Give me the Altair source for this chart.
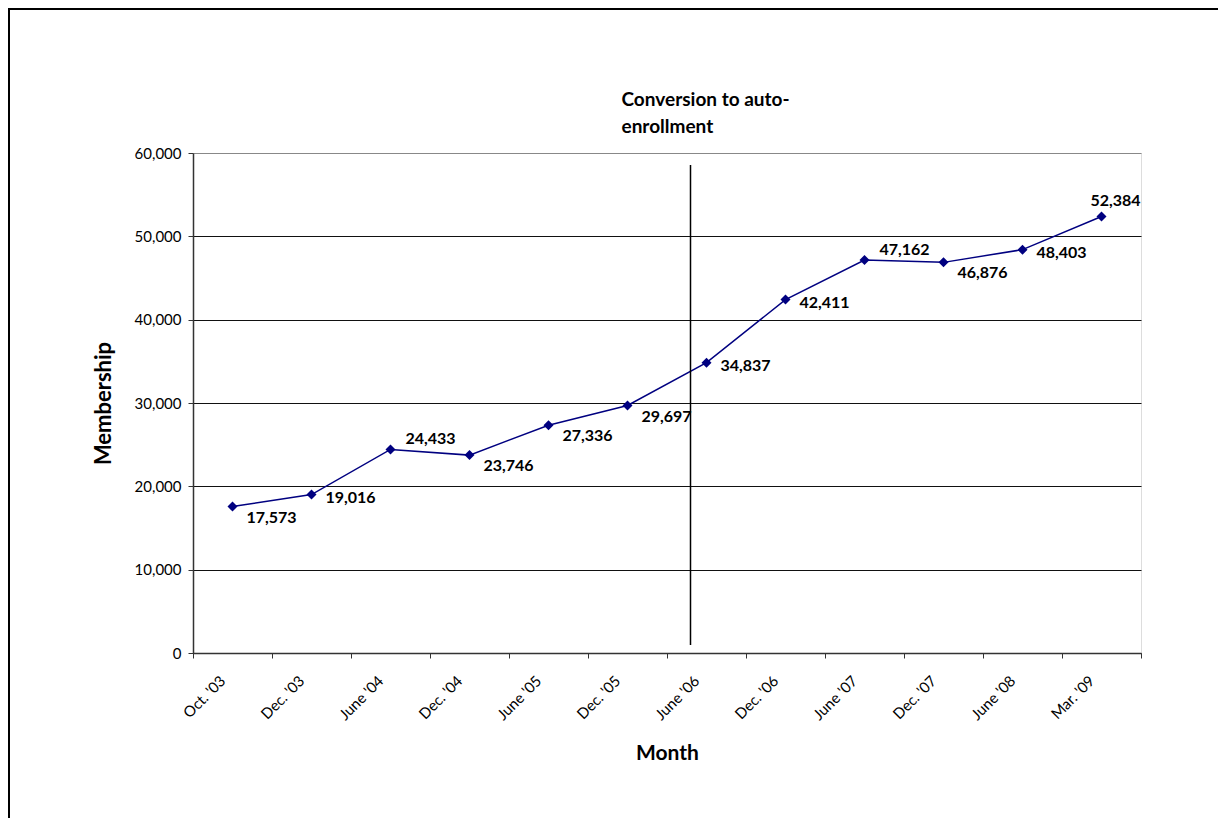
import altair as alt
import pandas as pd

months = ["Oct. '03", "Dec. '03", "June '04", "Dec. '04", "June '05", "Dec. '05",
          "June '06", "Dec. '06", "June '07", "Dec. '07", "June '08", "Mar. '09"]
membership = [17573, 19016, 24433, 23746, 27336, 29697,
              34837, 42411, 47162, 46876, 48403, 52384]
label_pos = ["below", "right", "above", "below", "below", "below",
             "right", "right", "above", "below", "right", "top"]
annotation = ["Conversion to auto-", "enrollment"]
conversion_month = "June '06"

df = pd.DataFrame({"month": months, "members": membership, "pos": label_pos})

FONT = "Lato"
NAVY = "#000080"
W, H = 948, 500
PAD_R, PAD_B = 77, 165

x_enc = alt.X("month:N", sort=months,
              scale=alt.Scale(type="band", domain=months, paddingInner=0, paddingOuter=0),
              axis=alt.Axis(title="Month", labelAngle=-45, labelFontSize=15, labelFont=FONT,
                            labelColor="#000", tickBand="extent", tickSize=5, tickColor="#333",
                            domainColor="#333", domainWidth=1.5, grid=False,
                            labelPadding=15, labelOffset=-15,
                            titleFont=FONT, titleFontSize=21, titleFontWeight="bold",
                            titleColor="#000", titlePadding=20))
y_enc = alt.Y("members:Q",
              scale=alt.Scale(domain=[0, 60000], nice=False),
              axis=alt.Axis(title="Membership", values=list(range(0, 60001, 10000)), format=",d",
                            labelFontSize=15, labelFont=FONT, labelColor="#000",
                            tickSize=5, tickColor="#333", domainColor="#333", domainWidth=1.5,
                            grid=True,
                            gridColor=alt.condition(alt.datum.value == 60000, alt.value("#888"), alt.value("#111")),
                            gridWidth=1, labelPadding=7,
                            titleFont=FONT, titleFontSize=22, titleFontWeight="bold",
                            titleColor="#000", titlePadding=19))

base = alt.Chart(df)

line = base.mark_line(color=NAVY, strokeWidth=1.5).encode(x=x_enc, y=y_enc)
pts = base.mark_point(shape="diamond", filled=True, size=100, color=NAVY, opacity=1).encode(
    x=alt.X("month:N", sort=months), y="members:Q")

def labels(pos, **kw):
    return base.transform_filter(alt.datum.pos == pos).mark_text(
        font=FONT, fontSize=16, fontWeight="bold", color="#000", **kw
    ).encode(x=alt.X("month:N", sort=months), y="members:Q",
             text=alt.Text("members:Q", format=","))

lab_below = labels("below", align="left", baseline="middle", dx=14, dy=11)
lab_right = labels("right", align="left", baseline="middle", dx=14, dy=3)
lab_above = labels("above", align="left", baseline="middle", dx=15, dy=-10)
lab_top = labels("top", align="center", baseline="middle", dx=14, dy=-15)

one = alt.Data(values=[{"a": 1}])
rule = alt.Chart(one).mark_rule(color="#000", strokeWidth=1.5, xOffset=-16).encode(
    x=alt.datum(conversion_month), y=alt.datum(58560), y2=alt.datum(960))
note = alt.Chart(one).mark_text(font=FONT, fontSize=19, fontWeight="bold", color="#000",
                                align="left", baseline="middle", lineHeight=27, dx=-85).encode(
    x=alt.datum(conversion_month), y=alt.value(-53), text=alt.value(annotation))

frame_top = alt.Chart(one).mark_rule(color="#000", strokeWidth=2).encode(
    x=alt.value(-185), x2=alt.value(W + PAD_R), y=alt.value(-144))
frame_left = alt.Chart(one).mark_rule(color="#000", strokeWidth=2).encode(
    x=alt.value(-184), y=alt.value(-145), y2=alt.value(H + PAD_B))

chart = alt.layer(frame_top, frame_left, line, rule, pts,
                  lab_below, lab_right, lab_above, lab_top, note).properties(
    width=W, height=H,
    autosize=alt.AutoSizeParams(type="none"),
    padding={"left": 185, "top": 145, "right": PAD_R, "bottom": PAD_B},
).configure_view(stroke="#888", strokeWidth=1.5).configure(background="white")

chart.save("out.html", embed_options={"renderer": "svg", "actions": False})
